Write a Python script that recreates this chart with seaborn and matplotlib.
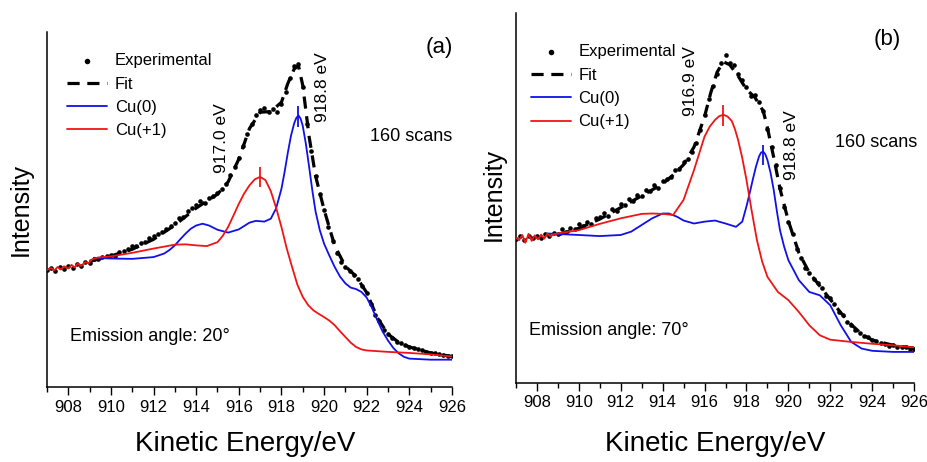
import matplotlib
matplotlib.use("Agg")
import matplotlib.pyplot as plt
import seaborn as sns
from matplotlib.ticker import MultipleLocator

# ---- panel (a): emission angle 20 deg ----
E_EXP = [907.0, 907.2, 907.4, 907.6, 907.8, 908.0, 908.2, 908.4, 908.6, 908.8,
         909.0, 909.2, 909.4, 909.6, 909.8, 910.0, 910.2, 910.4, 910.6, 910.8,
         911.0, 911.2, 911.4, 911.6, 911.8, 912.0, 912.2, 912.4, 912.6, 912.8,
         913.0, 913.2, 913.4, 913.6, 913.8, 914.0, 914.2, 914.4, 914.6, 914.8,
         915.0, 915.2, 915.4, 915.6, 915.8, 916.0, 916.2, 916.4, 916.6, 916.8,
         917.0, 917.2, 917.4, 917.6, 917.8, 918.0, 918.2, 918.4, 918.6, 918.8,
         919.0, 919.2, 919.4, 919.6, 919.8, 920.0, 920.2, 920.4, 920.6, 920.8,
         921.0, 921.2, 921.4, 921.6, 921.8, 922.0, 922.2, 922.4, 922.6, 922.8,
         923.0, 923.2, 923.4, 923.6, 923.8, 924.0, 924.2, 924.4, 924.6, 924.8,
         925.0, 925.2, 925.4, 925.6, 925.8, 926.0]
I_EXP_A = [33.0, 33.4, 32.8, 33.9, 33.2, 34.1, 33.5, 34.6, 34.0, 35.2,
           35.0, 36.2, 36.0, 36.5, 36.8, 37.3, 37.0, 38.0, 38.4, 38.9,
           39.6, 39.8, 40.7, 40.9, 42.0, 42.6, 43.1, 43.8, 44.6, 45.4,
           46.3, 47.5, 48.0, 49.6, 50.4, 51.2, 52.5, 51.8, 53.2, 53.9,
           54.6, 55.8, 57.3, 59.6, 62.0, 64.6, 67.9, 71.3, 74.0, 76.5,
           78.0, 78.5, 77.6, 78.2, 77.5, 79.8, 83.2, 87.1, 90.4, 91.0,
           84.5, 74.0, 66.5, 59.5, 54.3, 49.9, 45.0, 41.0, 37.8, 35.2,
           33.9, 32.6, 31.6, 30.5, 28.4, 26.5, 23.5, 20.4, 18.6, 16.2,
           14.8, 13.9, 12.8, 12.3, 11.9, 11.4, 11.0, 10.6, 10.3, 9.9,
           9.7, 9.5, 9.2, 9.0, 8.8, 8.6]

E_FIT_A = [909.0, 910.0, 911.0, 912.0, 913.0, 914.0, 914.5, 915.0, 915.5, 916.0,
           916.5, 917.0, 917.5, 918.0, 918.3, 918.6, 918.8, 919.0, 919.3, 919.6,
           920.0, 920.5, 921.0, 921.5, 922.0, 922.5, 923.0, 923.5, 924.0, 925.0, 926.0]
I_FIT_A = [35.4, 36.9, 38.8, 41.6, 45.6, 50.4, 52.4, 54.3, 57.8, 64.2,
           72.8, 77.4, 77.6, 80.2, 85.5, 89.6, 90.5, 85.0, 70.5, 59.5,
           50.0, 39.8, 34.0, 31.2, 26.6, 19.5, 14.9, 12.6, 11.3, 9.6, 8.6]

E_CU0_A = [909.2, 910.0, 911.0, 912.0, 912.5, 912.75, 913.0, 913.25, 913.5, 913.75,
           914.0, 914.3, 914.6, 915.0, 915.5, 916.0, 916.5, 916.8, 917.2, 917.5,
           917.75, 918.0, 918.15, 918.3, 918.45, 918.6, 918.7, 918.8, 918.9, 919.0,
           919.15, 919.3, 919.45, 919.6, 919.8, 920.0, 920.25, 920.5, 920.75, 921.0,
           921.25, 921.5, 921.75, 922.0, 922.25, 922.5, 922.75, 923.0, 923.25, 923.5,
           923.75, 924.0, 925.0, 926.0]
I_CU0_A = [36.4, 36.2, 36.1, 36.6, 37.6, 38.6, 39.9, 41.6, 43.2, 44.6,
           45.5, 46.0, 45.5, 44.3, 43.5, 44.4, 46.3, 46.8, 46.6, 47.4,
           50.3, 55.8, 60.6, 66.0, 70.8, 74.3, 75.8, 76.5, 75.6, 73.6,
           68.4, 62.0, 55.4, 49.5, 44.2, 40.4, 37.0, 33.8, 31.1, 29.2,
           28.0, 27.6, 26.8, 25.2, 22.3, 18.8, 15.6, 13.1, 11.0, 9.5,
           8.5, 8.0, 7.7, 7.7]

E_CU1_A = [907.0, 907.2, 907.35, 907.5, 907.65, 907.8, 908.0, 908.15, 908.3, 908.45,
           908.6, 908.8, 908.95, 909.1, 909.4, 910.0, 911.0, 912.0, 913.0, 913.5,
           914.0, 914.5, 915.0, 915.25, 915.5, 915.75, 916.0, 916.25, 916.5, 916.75,
           917.0, 917.25, 917.5, 917.75, 918.0, 918.25, 918.5, 918.75, 919.0, 919.25,
           919.5, 919.75, 920.0, 920.25, 920.5, 920.75, 921.0, 921.25, 921.5, 921.75,
           922.0, 923.0, 924.0, 925.0, 926.0]
I_CU1_A = [33.0, 33.5, 32.9, 33.8, 33.1, 34.0, 33.4, 34.4, 33.7, 34.8,
           34.1, 35.2, 34.8, 35.9, 36.5, 36.8, 37.8, 39.0, 40.1, 40.2,
           39.9, 39.7, 40.8, 42.6, 45.1, 48.3, 51.6, 54.5, 56.8, 58.5,
           59.2, 58.3, 55.2, 50.5, 45.1, 39.0, 33.8, 28.8, 25.4, 23.1,
           21.6, 20.6, 19.7, 18.7, 17.4, 15.7, 14.1, 12.5, 11.3, 10.6,
           10.3, 9.9, 9.6, 9.2, 8.6]

# ---- panel (b): emission angle 70 deg ----
I_EXP_B = [39.0, 39.6, 38.7, 39.8, 39.2, 39.7, 39.3, 40.3, 39.8, 40.6,
           40.2, 41.5, 40.9, 42.0, 41.6, 42.9, 42.3, 43.5, 43.0, 44.6,
           44.8, 45.9, 45.2, 47.0, 46.6, 48.4, 48.0, 49.6, 49.1, 50.9,
           50.6, 52.2, 51.9, 53.4, 52.8, 54.6, 55.0, 55.8, 57.6, 57.9,
           59.6, 60.4, 62.5, 64.8, 68.5, 72.4, 76.8, 80.3, 83.6, 86.5,
           88.6, 86.4, 85.9, 83.5, 81.8, 79.9, 77.6, 77.9, 75.8, 73.5,
           68.6, 63.8, 58.9, 52.8, 47.6, 43.6, 40.2, 36.1, 33.8, 31.2,
           29.8, 28.2, 26.9, 25.6, 23.6, 22.9, 21.3, 19.1, 18.4, 16.4,
           15.8, 14.4, 13.6, 12.8, 12.4, 11.5, 11.3, 10.7, 10.6, 10.1,
           10.2, 9.8, 9.6, 9.7, 9.3, 9.3]

E_FIT_B = [909.0, 910.0, 911.0, 912.0, 913.0, 914.0, 914.5, 915.0, 915.5, 916.0,
           916.3, 916.6, 916.9, 917.2, 917.6, 918.0, 918.4, 918.8, 919.0, 919.3,
           919.6, 920.0, 920.5, 921.0, 921.5, 922.0, 922.5, 923.0, 923.5, 924.0,
           925.0, 926.0]
I_FIT_B = [40.0, 41.8, 44.3, 47.4, 50.6, 53.8, 56.2, 59.0, 63.8, 72.0,
           78.5, 84.0, 86.8, 86.0, 83.0, 79.3, 77.2, 73.5, 69.0, 61.0,
           52.5, 43.8, 35.2, 29.8, 26.2, 22.6, 19.0, 15.8, 13.2, 11.6,
           10.2, 9.4]

E_CU0_B = [908.5, 910.0, 911.0, 912.0, 912.5, 913.0, 913.5, 914.0, 914.3, 914.7,
           915.0, 915.5, 916.0, 916.5, 917.0, 917.5, 917.8, 918.0, 918.15, 918.3,
           918.45, 918.6, 918.7, 918.8, 918.9, 919.0, 919.15, 919.3, 919.45, 919.6,
           919.8, 920.0, 920.5, 921.0, 921.5, 922.0, 922.5, 923.0, 923.5, 924.0,
           925.0, 926.0]
I_CU0_B = [40.4, 40.0, 39.7, 40.0, 40.9, 42.7, 44.5, 45.8, 45.8, 44.9,
           43.9, 43.1, 43.6, 43.9, 43.1, 42.2, 43.6, 47.7, 51.2, 54.9,
           58.4, 61.2, 62.3, 62.5, 61.8, 60.3, 56.8, 52.2, 46.5, 41.3,
           36.8, 33.2, 27.8, 24.6, 23.7, 21.0, 15.6, 11.1, 9.3, 8.7,
           8.4, 8.4]

E_CU1_B = [907.0, 907.15, 907.3, 907.45, 907.6, 907.75, 907.9, 908.05, 908.2, 908.35,
           908.5, 908.65, 908.8, 909.0, 910.0, 911.0, 912.0, 913.0, 913.5, 914.0,
           914.5, 915.0, 915.5, 916.0, 916.25, 916.5, 916.7, 916.9, 917.1, 917.3,
           917.45, 917.6, 917.8, 918.0, 918.25, 918.5, 918.75, 919.0, 919.5, 920.0,
           920.5, 921.0, 921.5, 922.0, 923.0, 924.0, 925.0, 926.0]
I_CU1_B = [39.2, 38.6, 40.0, 37.9, 40.3, 38.4, 39.9, 38.8, 40.1, 39.0,
           40.4, 39.6, 40.2, 40.4, 41.3, 43.0, 44.5, 45.7, 45.8, 45.7,
           45.4, 49.5, 57.6, 66.6, 69.3, 71.1, 72.1, 72.5, 72.0, 70.8,
           68.6, 65.7, 60.8, 54.9, 46.5, 38.6, 32.8, 28.7, 24.6, 22.4,
           19.2, 15.6, 12.9, 11.7, 11.1, 10.6, 10.2, 9.6]

# peak markers: energy, lower and upper end of the short tick
PEAK_CU1_A = (917.0, 56.3, 62.0)
PEAK_CU0_A = (918.8, 73.2, 79.1)
PEAK_CU1_B = (916.9, 69.5, 75.2)
PEAK_CU0_B = (918.8, 58.9, 64.4)

BLUE = "#1010e8"
RED = "#f01414"


def draw_panel(ax, i_exp, e_fit, i_fit, e_cu0, i_cu0, e_cu1, i_cu1, pk1, pk0):
    sns.lineplot(x=e_fit, y=i_fit, ax=ax, color="black", lw=2.3, sort=False,
                 estimator=None, label="Fit")
    ax.lines[-1].set_dashes((3.8, 2.4))
    sns.scatterplot(x=E_EXP, y=i_exp, ax=ax, color="black", s=11, lw=0,
                    label="Experimental", zorder=3)
    sns.lineplot(x=e_cu0, y=i_cu0, ax=ax, color=BLUE, lw=1.3, sort=False,
                 estimator=None, label="Cu(0)", zorder=4)
    sns.lineplot(x=e_cu1, y=i_cu1, ax=ax, color=RED, lw=1.3, sort=False,
                 estimator=None, label="Cu(+1)", zorder=5)
    ax.vlines(pk1[0], pk1[1], pk1[2], color=RED, lw=1.3, zorder=5)
    ax.vlines(pk0[0], pk0[1], pk0[2], color=BLUE, lw=1.3, zorder=5)

    ax.set_xlim(907, 926)
    ax.set_ylim(0, 100)
    ax.xaxis.set_major_locator(MultipleLocator(2))
    ax.xaxis.set_minor_locator(MultipleLocator(1))
    ax.set_xticks(range(908, 927, 2))
    ax.set_yticks([])
    for s in ("top", "right"):
        ax.spines[s].set_visible(False)
    for s in ("left", "bottom"):
        ax.spines[s].set_linewidth(1.1)
        ax.spines[s].set_color("black")
    ax.tick_params(axis="x", which="major", direction="out", length=6, width=1,
                   labelsize=12, pad=3, colors="black")
    ax.tick_params(axis="x", which="minor", direction="out", length=3.5, width=1,
                   colors="black")
    ax.set_xlabel("Kinetic Energy/eV", fontsize=20)
    ax.set_ylabel("Intensity", fontsize=18)

    handles, labels = ax.get_legend_handles_labels()
    order = [labels.index(k) for k in ("Experimental", "Fit", "Cu(0)", "Cu(+1)")]
    return [handles[i] for i in order], [labels[i] for i in order]


def add_legend(ax, h, l, anchor):
    ax.legend(h, l, loc="upper left", bbox_to_anchor=anchor,
              frameon=False, fontsize=12, handlelength=2.4,
              handletextpad=0.45, labelspacing=0.5, borderpad=0,
              borderaxespad=0, markerscale=1.2)


def main():
    sns.set_theme(style="ticks", rc={"text.color": "black",
                                     "axes.labelcolor": "black",
                                     "xtick.color": "black"})
    plt.rcParams["font.family"] = ["Liberation Sans", "DejaVu Sans"]
    fig = plt.figure(figsize=(9.28, 4.62), dpi=100)
    ax_a = fig.add_axes([0.0506, 0.1623, 0.4364, 0.7684])
    ax_b = fig.add_axes([0.556, 0.171, 0.429, 0.801])

    h, l = draw_panel(ax_a, I_EXP_A, E_FIT_A, I_FIT_A, E_CU0_A, I_CU0_A,
                      E_CU1_A, I_CU1_A, PEAK_CU1_A, PEAK_CU0_A)
    add_legend(ax_a, h, l, (0.05, 0.94))
    ax_a.text(915.2, 70.1, "917.0 eV", rotation=90, ha="center", va="center", fontsize=12.5)
    ax_a.text(919.95, 84.5, "918.8 eV", rotation=90, ha="center", va="center", fontsize=12.5)
    ax_a.text(0.97, 0.955, "(a)", transform=ax_a.transAxes, ha="center", va="center", fontsize=16)
    ax_a.text(0.90, 0.707, "160 scans", transform=ax_a.transAxes, ha="center", va="center", fontsize=13)
    ax_a.text(0.057, 0.141, "Emission angle: 20°", transform=ax_a.transAxes, ha="left", va="center", fontsize=13)
    ax_a.xaxis.set_label_coords(0.489, -0.125)
    ax_a.yaxis.set_label_coords(-0.035, 0.5)

    h, l = draw_panel(ax_b, I_EXP_B, E_FIT_B, I_FIT_B, E_CU0_B, I_CU0_B,
                      E_CU1_B, I_CU1_B, PEAK_CU1_B, PEAK_CU0_B)
    add_legend(ax_b, h, l, (0.038, 0.915))
    ax_b.text(915.35, 81.6, "916.9 eV", rotation=90, ha="center", va="center", fontsize=12.5)
    ax_b.text(920.13, 64.3, "918.8 eV", rotation=90, ha="center", va="center", fontsize=12.5)
    ax_b.text(0.932, 0.927, "(b)", transform=ax_b.transAxes, ha="center", va="center", fontsize=16)
    ax_b.text(0.905, 0.649, "160 scans", transform=ax_b.transAxes, ha="center", va="center", fontsize=13)
    ax_b.text(0.033, 0.143, "Emission angle: 70°", transform=ax_b.transAxes, ha="left", va="center", fontsize=13)
    ax_b.xaxis.set_label_coords(0.50, -0.13)
    ax_b.yaxis.set_label_coords(-0.025, 0.51)

    fig.savefig("out.png", dpi=100)
    plt.close(fig)


if __name__ == "__main__":
    main()
